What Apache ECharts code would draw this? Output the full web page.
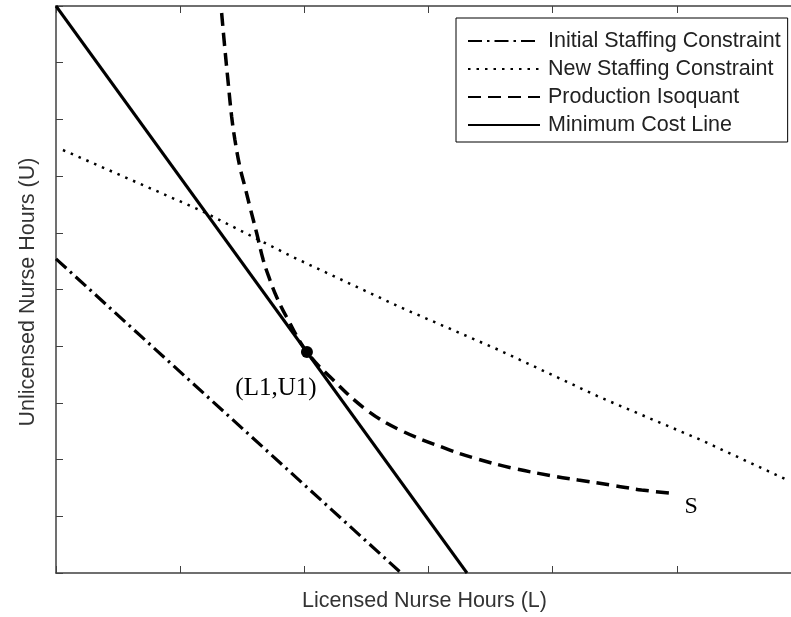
<!DOCTYPE html>
<html>
<head>
<meta charset="utf-8">
<script src="https://cdn.jsdelivr.net/npm/echarts@6/dist/echarts.min.js"></script>
<style>html,body{margin:0;padding:0;background:#fff;}#chart{width:791px;height:617px;}</style>
</head>
<body>
<div id="chart"></div>
<script>
// Data (L = licensed nurse hours, U = unlicensed nurse hours)
const initialConstraint = [[0, 5.54], [2.78, 0]];
const newConstraint = [[0.056, 7.46], [1.16, 6.40], [1.91, 5.57], [2.77, 4.69], [3.57, 3.93], [4.38, 3.10], [5.19, 2.35], [5.89, 1.64]];
const isoquant = [[1.334, 9.877], [1.361, 9.224], [1.387, 8.642], [1.415, 8.042], [1.441, 7.637], [1.481, 7.160], [1.522, 6.808], [1.562, 6.455], [1.616, 5.996], [1.669, 5.520], [1.723, 5.168], [1.777, 4.868], [1.857, 4.515], [2.021, 3.898], [2.233, 3.404], [2.502, 2.875], [2.770, 2.522], [3.172, 2.169], [3.374, 2.023], [3.682, 1.847], [3.991, 1.716], [4.205, 1.640], [4.501, 1.540], [4.716, 1.464], [4.970, 1.406]];
const minCostLine = [[0, 10], [3.31, 0]];
const tangentPoint = [[2.021, 3.898]];
const endPointS = [[4.970, 1.406]];
const seriesNames = ['Initial Staffing Constraint', 'New Staffing Constraint', 'Production Isoquant', 'Minimum Cost Line'];
const xRange = [0, 6];
const yRange = [0, 10];

const axisColor = '#404040';
const chart = echarts.init(document.getElementById('chart'));
const baseAxis = {
  axisLine: { show: true, onZero: false, lineStyle: { color: axisColor, width: 1.5 } },
  axisTick: { show: true, inside: true, length: 7, lineStyle: { color: axisColor, width: 1 } },
  axisLabel: { show: false },
  splitLine: { show: false }
};
chart.setOption({
  animation: false,
  backgroundColor: '#fff',
  grid: { left: 56, top: 6, width: 745, height: 567, outerBoundsMode: 'none', containLabel: false },
  legend: {
    data: seriesNames,
    orient: 'vertical',
    left: 456,
    top: 18,
    backgroundColor: '#fff',
    borderColor: '#000',
    borderWidth: 1,
    borderRadius: 0,
    padding: [12, 7, 6, 11],
    itemWidth: 72,
    itemHeight: 14,
    itemGap: 6,
    itemStyle: { opacity: 0 },
    textStyle: { fontFamily: 'Liberation Sans, Arial, sans-serif', fontSize: 21.5, color: '#222', lineHeight: 22, padding: [0, 0, 0, 3] }
  },
  xAxis: [
    Object.assign({ type: 'value', min: xRange[0], max: xRange[1], interval: 1, position: 'bottom',
      name: 'Licensed Nurse Hours (L)', nameLocation: 'middle', nameGap: 17,
      nameTextStyle: { fontFamily: 'Liberation Sans, Arial, sans-serif', fontSize: 21.5, color: '#333', padding: [0, 8, 0, 0] } }, baseAxis),
    Object.assign({ type: 'value', min: xRange[0], max: xRange[1], interval: 1, position: 'top' }, baseAxis)
  ],
  yAxis: [
    Object.assign({ type: 'value', min: yRange[0], max: yRange[1], interval: 1, position: 'left',
      name: 'Unlicensed Nurse Hours (U)', nameLocation: 'middle', nameGap: 17,
      nameTextStyle: { fontFamily: 'Liberation Sans, Arial, sans-serif', fontSize: 21.5, color: '#333', padding: [0, 5, 0, 0] } }, baseAxis)
  ],
  series: [
    { name: seriesNames[0], type: 'line', data: initialConstraint, symbol: 'none', clip: true,
      lineStyle: { color: '#000', width: 3.2, type: [14, 5, 2.5, 5] }, itemStyle: { color: '#000' } },
    { name: seriesNames[1], type: 'line', data: newConstraint, symbol: 'none', clip: true,
      lineStyle: { color: '#000', width: 2.5, type: [2.5, 6] }, itemStyle: { color: '#000' } },
    { name: seriesNames[2], type: 'line', data: isoquant, symbol: 'none', smooth: 0.4, clip: true,
      lineStyle: { color: '#000', width: 3.5, type: [13, 7] }, itemStyle: { color: '#000' } },
    { name: seriesNames[3], type: 'line', data: minCostLine, symbol: 'none', clip: true,
      lineStyle: { color: '#000', width: 3, type: 'solid' }, itemStyle: { color: '#000' } },
    { name: 'L1U1', type: 'scatter', data: tangentPoint, symbol: 'circle', symbolSize: 12, z: 5,
      itemStyle: { color: '#000', opacity: 1 },
      label: { show: true, position: 'inside', offset: [-31, 36], formatter: '(L1,U1)',
        fontFamily: 'Liberation Serif, Times New Roman, serif', fontSize: 25, color: '#000' } },
    { name: 'S', type: 'scatter', data: endPointS, symbolSize: 0,
      itemStyle: { color: 'transparent', opacity: 1 },
      label: { show: true, position: 'inside', offset: [18, 13], formatter: 'S',
        fontFamily: 'Liberation Serif, Times New Roman, serif', fontSize: 24, color: '#000' } }
  ]
});
</script>
</body>
</html>
